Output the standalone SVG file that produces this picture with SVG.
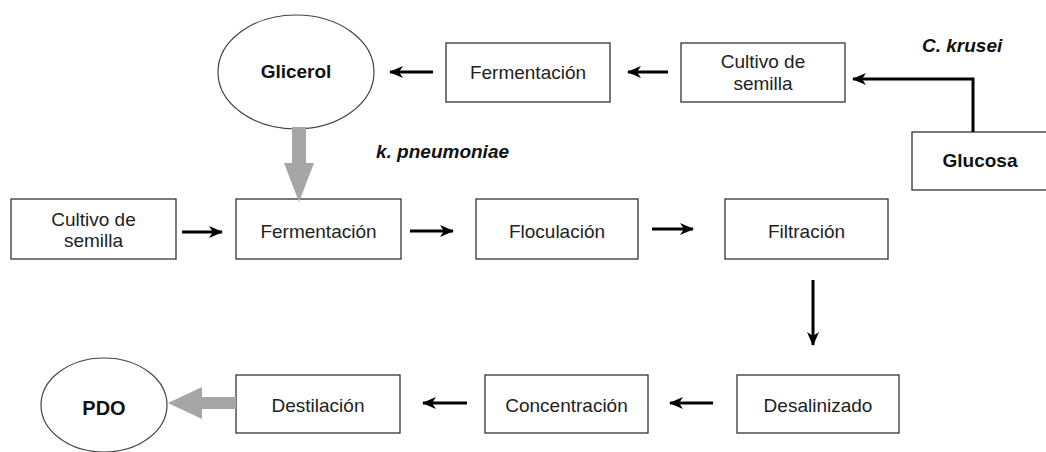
<svg xmlns="http://www.w3.org/2000/svg" width="1046" height="452" viewBox="0 0 1046 452">
<defs>
<style>
.box{fill:#fff;stroke:#333;stroke-width:1.3}
.ell{fill:#fff;stroke:#444;stroke-width:1.2}
.t{font-family:"Liberation Sans",Arial,sans-serif;font-size:19px;fill:#222;text-anchor:middle}
.b{font-weight:bold;fill:#111}
.bi{font-family:"Liberation Sans",Arial,sans-serif;font-size:19px;font-weight:bold;font-style:italic;fill:#111}
.c{fill:none;stroke:#000;stroke-width:3;marker-end:url(#ah)}
.g{fill:#a6a6a6;stroke:none}
</style>
<marker id="ah" markerUnits="userSpaceOnUse" viewBox="0 0 14 12" refX="13" refY="6" markerWidth="14" markerHeight="12" orient="auto">
<path d="M0,0 L14,6 L0,12 L4,6 Z" fill="#000"/>
</marker>
</defs>
<g id="glicerol"><ellipse class="ell" cx="296" cy="72" rx="78" ry="57"/><text class="t b" x="296" y="78">Glicerol</text></g>
<g id="fermentacion1"><rect class="box" x="446" y="43" width="164" height="59"/><text class="t" x="528" y="79">Fermentación</text></g>
<g id="cultivo1"><rect class="box" x="681" y="43" width="164" height="59"/><text class="t" x="763" y="68">Cultivo de</text><text class="t" x="763" y="90">semilla</text></g>
<g id="glucosa"><rect class="box" x="912" y="132" width="140" height="58"/><text class="t b" x="980" y="167">Glucosa</text></g>
<g id="ckrusei"><text class="bi" x="922" y="52">C. krusei</text></g>
<g id="kpneumoniae"><text class="bi" x="376" y="158">k. pneumoniae</text></g>
<g id="cultivo2"><rect class="box" x="11" y="199" width="165" height="60"/><text class="t" x="93.5" y="226">Cultivo de</text><text class="t" x="93.5" y="247">semilla</text></g>
<g id="fermentacion2"><rect class="box" x="236" y="199" width="165" height="60"/><text class="t" x="318.5" y="238">Fermentación</text></g>
<g id="floculacion"><rect class="box" x="476" y="199" width="162" height="60"/><text class="t" x="557" y="238">Floculación</text></g>
<g id="filtracion"><rect class="box" x="725" y="199" width="163" height="60"/><text class="t" x="806.5" y="238">Filtración</text></g>
<g id="pdo"><ellipse class="ell" cx="104" cy="405" rx="63" ry="47"/><text class="t b" x="104" y="415" style="font-size:20px">PDO</text></g>
<g id="destilacion"><rect class="box" x="236" y="375" width="164" height="58"/><text class="t" x="318" y="412">Destilación</text></g>
<g id="concentracion"><rect class="box" x="485" y="375" width="163" height="58"/><text class="t" x="566.5" y="412">Concentración</text></g>
<g id="desalinizado"><rect class="box" x="737" y="375" width="162" height="58"/><text class="t" x="818" y="412">Desalinizado</text></g>
<g id="connectors">
<path class="c" d="M433,72 H390"/>
<path class="c" d="M668,72 H628"/>
<path class="c" d="M973,132 V79 H853"/>
<path class="c" d="M182,232 H222"/>
<path class="c" d="M410,231 H453"/>
<path class="c" d="M652,229 H693"/>
<path class="c" d="M813,280 V345"/>
<path class="c" d="M713,403 H670"/>
<path class="c" d="M467,403 H423"/>
<polygon class="g" points="292,127 306,127 306,163 314,163 299,202 284,163 292,163"/>
<polygon class="g" points="236,397 236,409 202,409 202,419 168,403 202,387 202,397"/>
</g>
</svg>
